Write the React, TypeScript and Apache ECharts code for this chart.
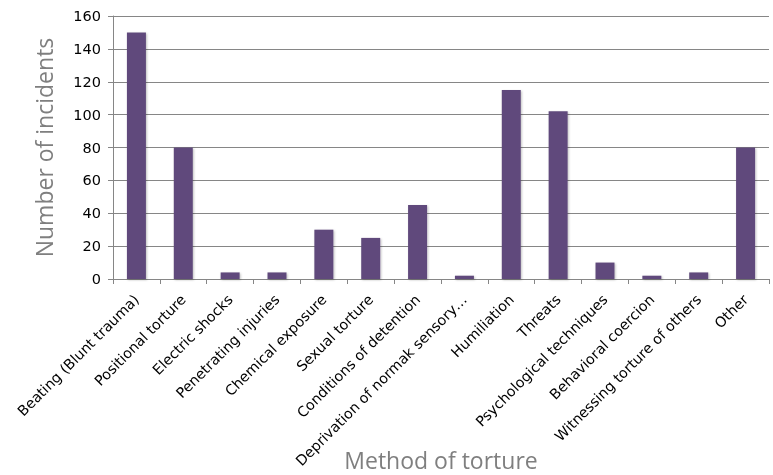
import React, { useEffect, useRef } from "react";
import * as echarts from "echarts";

const categories = [
  "Beating (Blunt trauma)",
  "Positional torture",
  "Electric shocks",
  "Penetrating injuries",
  "Chemical exposure",
  "Sexual torture",
  "Conditions of detention",
  "Deprivation of normak sensory…",
  "Humiliation",
  "Threats",
  "Psychological techniques",
  "Behavioral coercion",
  "Witnessing torture of others",
  "Other",
];
const incidents = [150, 80, 4, 4, 30, 25, 45, 2, 115, 102, 10, 2, 4, 80];
const yMin = 0;
const yMax = 160;
const yStep = 20;

export default function App() {
  const ref = useRef<HTMLDivElement>(null);
  useEffect(() => {
    if (!ref.current) return;
    const chart = echarts.init(ref.current, null, { renderer: "svg" });
    chart.setOption({
      animation: false,
      grid: {
        left: 113,
        right: 4,
        top: 16,
        bottom: 196,
        containLabel: false,
        outerBoundsMode: "none",
      },
      xAxis: {
        type: "category",
        data: categories,
        name: "Method of torture",
        nameLocation: "middle",
        nameGap: 169,
        nameMoveOverlap: false,
        nameTextStyle: {
          fontFamily: "Open Sans",
          fontSize: 23,
          color: "#7f7f7f",
          verticalAlign: "top",
        },
        axisLine: { show: true, lineStyle: { color: "#868686", width: 1 } },
        axisTick: { show: true, length: 5, alignWithLabel: false, lineStyle: { color: "#868686" } },
        axisLabel: {
          interval: 0,
          rotate: 45,
          margin: 18,
          fontFamily: "DejaVu Sans",
          fontSize: 14.3,
          color: "#000",
        },
      },
      yAxis: {
        type: "value",
        min: yMin,
        max: yMax,
        interval: yStep,
        name: "Number of incidents",
        nameLocation: "middle",
        nameGap: 58,
        nameTextStyle: { fontFamily: "Open Sans", fontSize: 23, color: "#7f7f7f" },
        axisLine: { show: true, lineStyle: { color: "#868686", width: 1 } },
        axisTick: { show: true, length: 5, lineStyle: { color: "#868686" } },
        axisLabel: { fontFamily: "DejaVu Sans", fontSize: 14.5, color: "#000", margin: 12 },
        splitLine: { show: true, lineStyle: { color: "#868686", width: 1 } },
      },
      series: [
        {
          type: "bar",
          data: incidents,
          barWidth: 19,
          itemStyle: {
            color: "#604a7b",
            shadowColor: "rgba(0,0,0,0.25)",
            shadowBlur: 2,
            shadowOffsetX: 1,
            shadowOffsetY: 1,
          },
        },
      ],
    });
    return () => chart.dispose();
  }, []);
  return (
    <div
      ref={ref}
      style={{ position: "fixed", left: 0, top: 0, width: 773, height: 475 }}
    />
  );
}
